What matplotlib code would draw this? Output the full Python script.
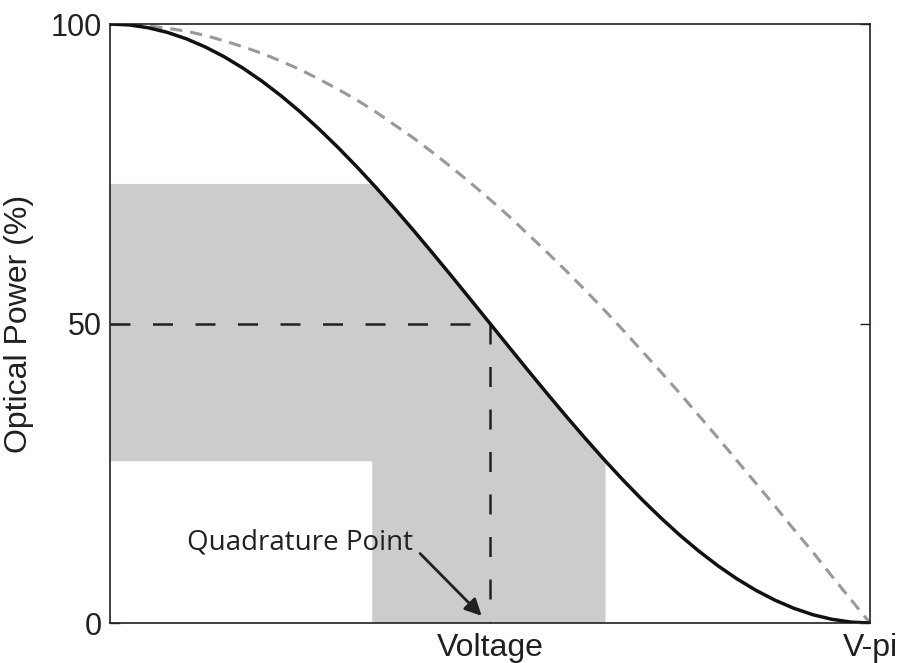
import numpy as np
import matplotlib
matplotlib.use("Agg")
import matplotlib.pyplot as plt

# voltage as a fraction of V-pi
voltage = [i / 40 for i in range(41)]

# transmitted optical power (%)
power = [100.0, 99.85, 99.38, 98.62, 97.55, 96.19, 94.55, 92.63, 90.45, 88.02,
         85.36, 82.47, 79.39, 76.13, 72.70, 69.13, 65.45, 61.67, 57.82, 53.92,
         50.0, 46.08, 42.18, 38.33, 34.55, 30.87, 27.30, 23.87, 20.61, 17.53,
         14.64, 11.98, 9.55, 7.37, 5.45, 3.81, 2.45, 1.38, 0.62, 0.15, 0.0]

# grey dashed reference curve (%)
field = [100.0, 99.9, 99.7, 99.3, 98.8, 98.1, 97.2, 96.2, 95.1, 93.8,
         92.4, 90.8, 89.1, 87.3, 85.3, 83.1, 80.9, 78.5, 76.0, 73.4,
         70.7, 67.9, 64.9, 61.9, 58.8, 55.6, 52.3, 48.9, 45.4, 41.9,
         38.3, 34.6, 30.9, 27.1, 23.3, 19.5, 15.6, 11.8, 7.8, 3.9, 0.0]

# linear region: input voltage range and output power range
band_v = [0.345, 0.652]
band_p = [27.0, 73.3]
quad_v, quad_p = 0.5, 50.0

x_ticks = [0.5, 1.0]
x_labels = ["Voltage", "V-pi"]
y_ticks = [0, 50, 100]

plt.rcParams["font.family"] = ["Liberation Sans", "DejaVu Sans"]

fig = plt.figure(figsize=(9.01, 6.63), dpi=100)
ax = fig.add_axes([0.1221, 0.0603, 0.8435, 0.9035])

# shaded L-shaped region under the curve
v = np.array(voltage)
p = np.array(power)
inside = (v > band_v[0]) & (v < band_v[1])
poly_x = [0, 0, band_v[0]] + list(v[inside]) + [band_v[1], band_v[1], band_v[0], band_v[0]]
poly_y = [band_p[0], band_p[1], band_p[1]] + list(p[inside]) + [band_p[0], 0, 0, band_p[0]]
ax.fill(poly_x, poly_y, color="#cccccc", lw=0, zorder=1)

ax.plot(voltage, field, color="#999999", lw=2.2, dashes=(4, 2.6), zorder=2)
ax.plot(voltage, power, color="#111111", lw=2.5, zorder=3)

ax.plot([0, quad_v], [quad_p, quad_p], color="#231f20", lw=1.8, dashes=(8, 9), zorder=2)
ax.plot([quad_v, quad_v], [quad_p, 0], color="#231f20", lw=1.8, dashes=(8, 9), zorder=2)

ax.text(0.25, 13.4, "Quadrature Point", ha="center", va="center", fontsize=20,
        family=["Open Sans", "DejaVu Sans"], color="#231f20", zorder=4)
ax.annotate("", xy=(0.489, 1.2), xytext=(0.408, 11.6),
            arrowprops=dict(arrowstyle="-|>,head_length=1.0,head_width=0.5",
                            color="#231f20", lw=2, shrinkA=0, shrinkB=0), zorder=4)

ax.set_xlim(0, 1)
ax.set_ylim(0, 100)
ax.set_xticks(x_ticks)
ax.set_xticklabels(x_labels)
ax.set_yticks(y_ticks)
ax.tick_params(axis="x", length=0, pad=7, labelsize=23, colors="#231f20")
ax.tick_params(axis="y", direction="in", length=7, width=1, right=True,
               labelsize=22, pad=6, colors="#231f20")
ax.set_ylabel("Optical Power (%)", fontsize=23, color="#231f20", labelpad=12)
for s in ax.spines.values():
    s.set_linewidth(1.2)
    s.set_color("#231f20")

fig.savefig("out.png", dpi=100)
